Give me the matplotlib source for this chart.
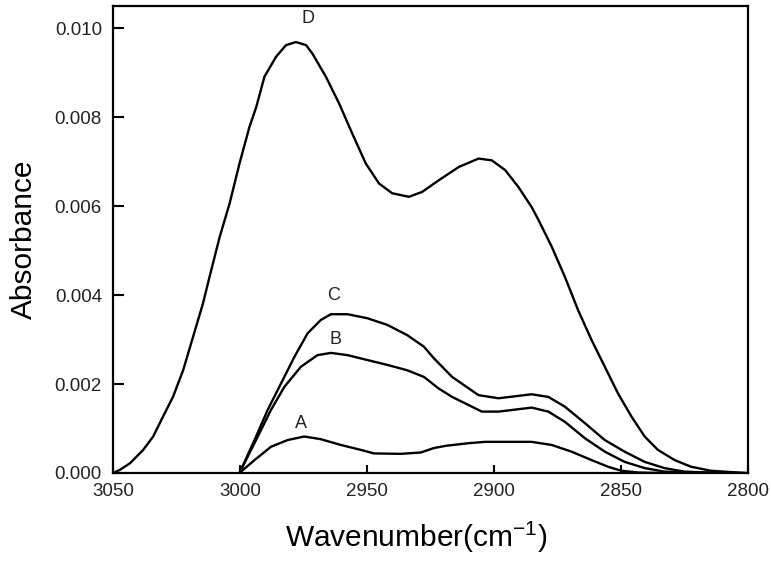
import matplotlib.pyplot as plt
import matplotlib

matplotlib.rcParams['font.family'] = ['Liberation Sans', 'DejaVu Sans']
matplotlib.rcParams['mathtext.default'] = 'regular'

# spectra (wavenumber, absorbance)
wn_D = [3050.0, 3047.3, 3043.3, 3038.1, 3034.2, 3030.3, 3026.4, 3022.4, 3018.5, 3014.6,
        3012.0, 3008.0, 3004.1, 3000.2, 2996.3, 2993.6, 2990.4, 2985.8, 2981.9, 2978.0,
        2974.0, 2971.5, 2966.2, 2961.0, 2955.8, 2950.5, 2945.3, 2940.1, 2933.5, 2928.3,
        2921.8, 2913.9, 2906.1, 2900.9, 2895.6, 2890.4, 2885.2, 2882.5, 2877.3, 2872.1,
        2866.9, 2861.6, 2856.4, 2851.2, 2845.9, 2840.7, 2835.5, 2828.9, 2822.4, 2814.6,
        2806.7, 2800.0]
ab_D = [0.0, 0.00007, 0.00022, 0.00052, 0.00082, 0.00127, 0.00171, 0.00231, 0.00306, 0.00381,
        0.00441, 0.00531, 0.00606, 0.00696, 0.00778, 0.00823, 0.00891, 0.00936, 0.00962, 0.00969,
        0.00962, 0.00943, 0.00891, 0.00831, 0.00763, 0.00696, 0.00651, 0.00629, 0.00621, 0.00632,
        0.00658, 0.00688, 0.00707, 0.00703, 0.00681, 0.00643, 0.00598, 0.00569, 0.00509, 0.00441,
        0.00366, 0.00299, 0.00239, 0.00179, 0.00127, 0.00082, 0.00052, 0.00029, 0.00014, 0.00005,
        0.00002, 0.0]

wn_C = [3000.2, 2994.3, 2989.1, 2983.8, 2978.6, 2973.4, 2968.2, 2964.2, 2957.7, 2949.9,
        2942.0, 2934.2, 2927.6, 2923.7, 2916.5, 2906.1, 2898.2, 2885.2, 2878.6, 2872.1,
        2864.2, 2856.4, 2848.6, 2840.7, 2832.9, 2825.0, 2815.0, 2805.0]
ab_C = [0.0, 0.00074, 0.00142, 0.00202, 0.00261, 0.00314, 0.00344, 0.00357, 0.00357, 0.00348,
        0.00333, 0.00310, 0.00284, 0.00258, 0.00216, 0.00175, 0.00168, 0.00177, 0.00171, 0.00149,
        0.00112, 0.00074, 0.00048, 0.00025, 0.00011, 0.00003, 0.00001, 0.0]

wn_B = [3000.2, 2993.0, 2987.8, 2982.5, 2976.0, 2969.5, 2964.2, 2957.7, 2949.9, 2942.0,
        2934.2, 2927.6, 2921.8, 2916.5, 2904.8, 2898.2, 2885.2, 2878.6, 2872.1, 2864.2,
        2856.4, 2848.6, 2840.7, 2832.9, 2822.0, 2812.0]
ab_B = [0.0, 0.00082, 0.00142, 0.00194, 0.00239, 0.00265, 0.00270, 0.00265, 0.00254, 0.00243,
        0.00231, 0.00216, 0.00190, 0.00171, 0.00138, 0.00138, 0.00147, 0.00138, 0.00115, 0.00078,
        0.00048, 0.00025, 0.00011, 0.00003, 0.00001, 0.0]

wn_A = [3000.2, 2994.3, 2987.8, 2981.3, 2974.7, 2968.2, 2960.3, 2952.5, 2947.3, 2936.8,
        2928.9, 2923.7, 2919.1, 2910.0, 2903.5, 2898.2, 2885.2, 2877.3, 2869.5, 2861.6,
        2855.1, 2849.9, 2843.0, 2835.0]
ab_A = [0.0, 0.00029, 0.00059, 0.00074, 0.00082, 0.00076, 0.00063, 0.00052, 0.00044, 0.00043,
        0.00046, 0.00056, 0.00061, 0.00067, 0.00070, 0.00070, 0.00070, 0.00063, 0.00048, 0.00029,
        0.00014, 0.00005, 0.00001, 0.0]

labels = ['A', 'B', 'C', 'D']
label_wn = [2976.0, 2962.5, 2963.0, 2973.3]
label_ab = [0.00112, 0.00301, 0.00398, 0.01022]

fig = plt.figure(figsize=(7.71, 5.62), dpi=100)
ax = fig.add_axes([0.1466, 0.1584, 0.8236, 0.8309])

for wn, ab in [(wn_D, ab_D), (wn_C, ab_C), (wn_B, ab_B), (wn_A, ab_A)]:
    ax.plot(wn, ab, color='black', lw=1.7, solid_joinstyle='round')

for lab, x, y in zip(labels, label_wn, label_ab):
    ax.text(x, y, lab, ha='center', va='center', fontsize=13, color='#222222')

ax.set_xlim(3050, 2800)
ax.set_ylim(0, 0.0105)
ax.set_xticks([3050, 3000, 2950, 2900, 2850, 2800])
ax.set_yticks([0.000, 0.002, 0.004, 0.006, 0.008, 0.010])
ax.set_yticklabels(['0.000', '0.002', '0.004', '0.006', '0.008', '0.010'])
ax.tick_params(axis='x', direction='in', length=6, width=1.5, pad=7, labelsize=13.5,
               labelcolor='#222222')
ax.tick_params(axis='y', direction='in', length=8, width=1.5, pad=8, labelsize=13.5,
               labelcolor='#222222')
for s in ax.spines.values():
    s.set_linewidth(1.6)

ax.set_xlabel(r'Wavenumber(cm$^{-1}$)', fontsize=21.5)
ax.set_ylabel('Absorbance', fontsize=21.5, labelpad=12)
ax.xaxis.set_label_coords(0.477, -0.1)

fig.savefig('out.png', dpi=100)
